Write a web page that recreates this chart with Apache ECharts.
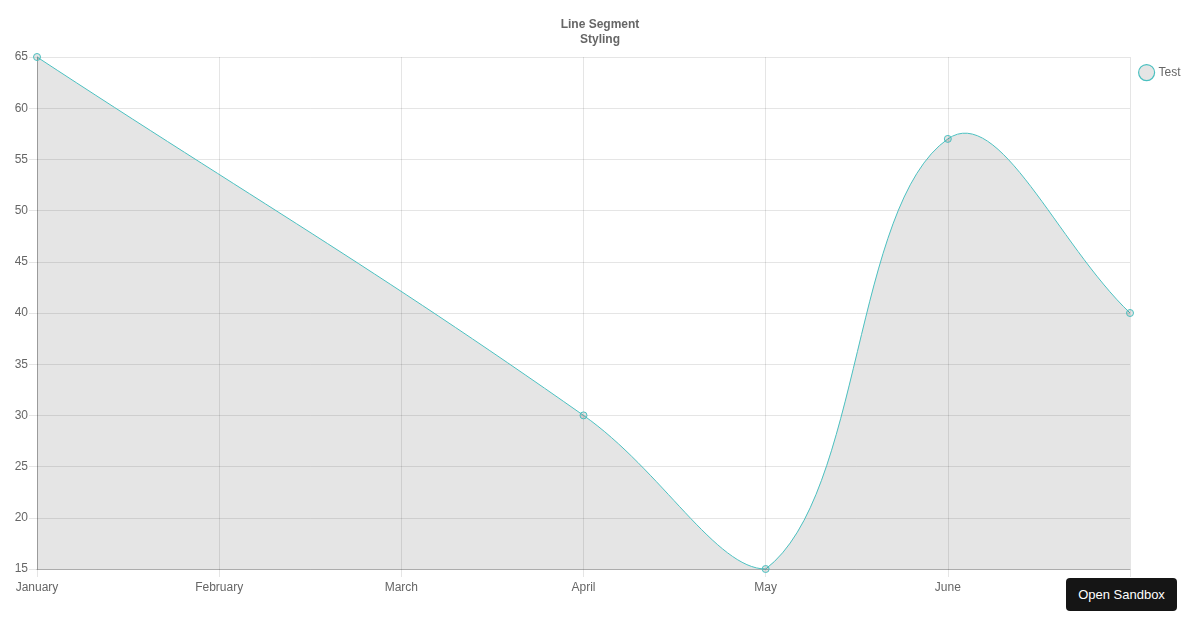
<!DOCTYPE html>
<html>
<head>
<meta charset="utf-8">
<script src="https://cdn.jsdelivr.net/npm/echarts@6/dist/echarts.min.js"></script>
<style>
html,body{margin:0;padding:0;background:#fff;}
#chart{width:1200px;height:630px;}
#btn{position:absolute;left:1066px;top:578px;width:111px;height:33px;background:#151515;color:#fff;border-radius:4px;font-family:'Liberation Sans',Arial,sans-serif;font-size:13px;line-height:33px;text-align:center;}
</style>
</head>
<body>
<div id="chart"></div>
<div id="btn">Open Sandbox</div>
<script>
const categories = ['January', 'February', 'March', 'April', 'May', 'June', 'July'];
const testValues = [65, null, null, 30, 15, 57, 40];
const yTicks = { min: 15, max: 65, interval: 5 };
const seriesName = 'Test';
const titleText = 'Line Segment\nStyling';

const FONT = "'Liberation Sans', Arial, sans-serif";
const TEAL = 'rgb(75,192,192)';
const TENSION = 0.4;

// Draws the spline (Chart.js-style tension spline) through the library's coordinate system
function renderCurve(params, api) {
  if (params.dataIndex !== 0) return null;
  const cs = params.coordSys;
  const pts = [];
  testValues.forEach(function (v, i) {
    if (v != null) { const p = api.coord([i, v]); pts.push({ x: p[0], y: p[1] }); }
  });
  const clampX = x => Math.max(cs.x, Math.min(cs.x + cs.width, x));
  const clampY = y => Math.max(cs.y, Math.min(cs.y + cs.height, y));
  for (let i = 0; i < pts.length; i++) {
    const prev = pts[i - 1] || pts[i], cur = pts[i], next = pts[i + 1] || pts[i];
    const d01 = Math.hypot(cur.x - prev.x, cur.y - prev.y);
    const d12 = Math.hypot(next.x - cur.x, next.y - cur.y);
    let s01 = d01 / (d01 + d12), s12 = d12 / (d01 + d12);
    if (!isFinite(s01)) s01 = 0;
    if (!isFinite(s12)) s12 = 0;
    const fa = TENSION * s01, fb = TENSION * s12;
    cur.cpPrev = { x: clampX(cur.x - fa * (next.x - prev.x)), y: clampY(cur.y - fa * (next.y - prev.y)) };
    cur.cpNext = { x: clampX(cur.x + fb * (next.x - prev.x)), y: clampY(cur.y + fb * (next.y - prev.y)) };
  }
  let d = 'M' + pts[0].x + ',' + pts[0].y;
  for (let i = 1; i < pts.length; i++) {
    const a = pts[i - 1], b = pts[i];
    d += ' C' + a.cpNext.x + ',' + a.cpNext.y + ' ' + b.cpPrev.x + ',' + b.cpPrev.y + ' ' + b.x + ',' + b.y;
  }
  const bottom = cs.y + cs.height;
  const last = pts[pts.length - 1];
  const area = d + ' L' + last.x + ',' + bottom + ' L' + pts[0].x + ',' + bottom + ' Z';
  return {
    type: 'group',
    children: [
      { type: 'path', shape: { pathData: area }, style: { fill: 'rgba(0,0,0,0.1)', stroke: null } },
      { type: 'path', shape: { pathData: d }, style: { fill: null, stroke: TEAL, lineWidth: 1 } }
    ]
  };
}

const chart = echarts.init(document.getElementById('chart'), null, { renderer: 'canvas' });
chart.setOption({
  animation: false,
  title: {
    text: titleText, left: 'center', top: 12,
    textStyle: { fontFamily: FONT, fontSize: 12, fontWeight: 'bold', color: '#666', lineHeight: 15 }
  },
  legend: {
    data: [seriesName], left: 1133, top: 59, orient: 'vertical',
    icon: 'circle', itemWidth: 16, itemHeight: 16, itemGap: 5,
    textStyle: { fontFamily: FONT, fontSize: 12, color: '#666', padding: [0, 0, 0, -1] },
    itemStyle: { color: 'rgba(0,0,0,0.1)', borderColor: TEAL, borderWidth: 1.2, opacity: 1 }
  },
  grid: { left: 37, right: 70, top: 57, bottom: 61 },
  xAxis: {
    type: 'category', data: categories, boundaryGap: false,
    axisLine: { lineStyle: { color: 'rgba(0,0,0,0.25)' } },
    axisTick: { show: true, length: 8, lineStyle: { color: 'rgba(0,0,0,0.1)' } },
    axisLabel: { fontFamily: FONT, fontSize: 12, color: '#666', margin: 13 },
    splitLine: { show: true, lineStyle: { color: 'rgba(0,0,0,0.1)' } }
  },
  yAxis: {
    type: 'value', min: yTicks.min, max: yTicks.max, interval: yTicks.interval,
    axisLine: { show: true, lineStyle: { color: 'rgba(0,0,0,0.25)' } },
    axisTick: { show: true, length: 8, lineStyle: { color: 'rgba(0,0,0,0.1)' } },
    axisLabel: { fontFamily: FONT, fontSize: 12, color: '#666', margin: 9 },
    splitLine: { show: true, lineStyle: { color: 'rgba(0,0,0,0.1)' } }
  },
  series: [
    {
      name: seriesName, type: 'custom', renderItem: renderCurve,
      data: testValues.map((v, i) => [i, v]).filter(p => p[1] != null),
      encode: { x: 0, y: 1 }, z: 2, silent: true
    },
    {
      name: seriesName, type: 'line', data: testValues,
      connectNulls: true,
      symbol: 'circle', symbolSize: 7,
      lineStyle: { width: 0, opacity: 0 },
      itemStyle: { color: 'rgba(0,0,0,0.1)', borderColor: TEAL, borderWidth: 1 },
      z: 3
    }
  ]
});
</script>
</body>
</html>
